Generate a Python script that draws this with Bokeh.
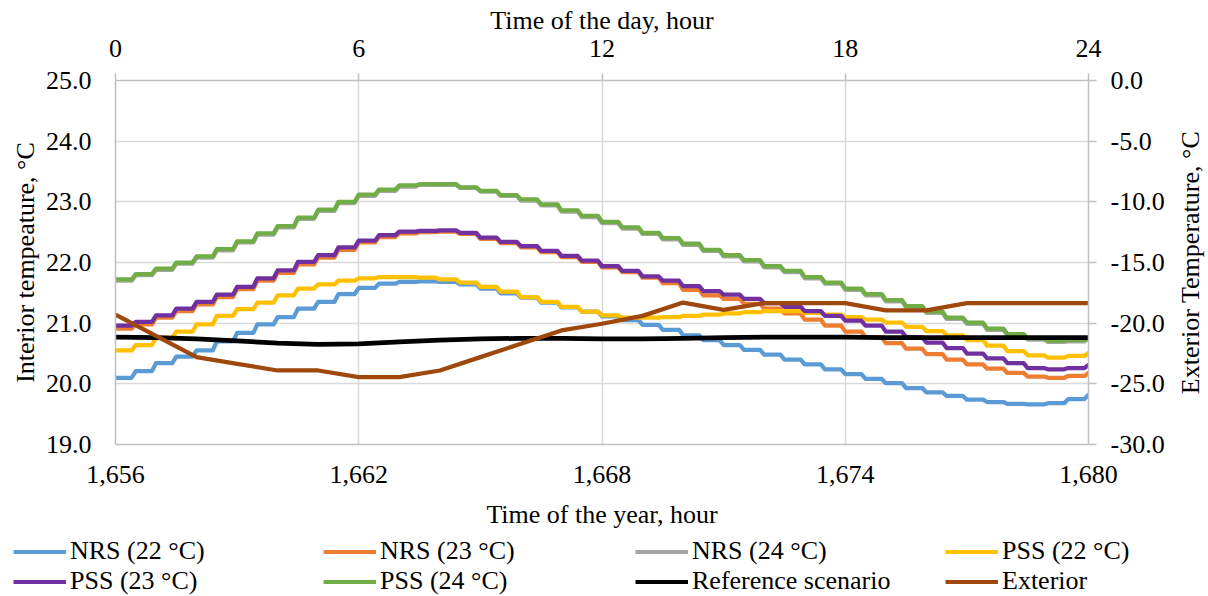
import math
from bokeh.plotting import figure
from bokeh.layouts import column, row
from bokeh.models import (Range1d, LinearAxis, FixedTicker, NumeralTickFormatter,
                          Legend, LegendItem, Grid, Label)
from bokeh.embed import file_html
from bokeh.resources import INLINE

FONT = "Liberation Serif"
FS = "26px"

# ---------------- data ----------------
start_hour = 1656
half_hours = [i * 0.5 for i in range(49)]   # time of the day, h (half-hour samples)
hours = list(range(25))                      # time of the day, h (hourly samples)

nrs_22 = [20.10, 20.21, 20.34, 20.45, 20.55, 20.70, 20.84, 20.98, 21.10, 21.24,
          21.35, 21.48, 21.58, 21.65, 21.68, 21.69, 21.68, 21.64, 21.57, 21.49,
          21.42, 21.34, 21.26, 21.19, 21.11, 21.05, 20.97, 20.89, 20.80, 20.72,
          20.64, 20.56, 20.48, 20.40, 20.32, 20.24, 20.16, 20.08, 20.01, 19.93,
          19.86, 19.80, 19.74, 19.70, 19.67, 19.66, 19.68, 19.75, 19.82]
nrs_23 = [20.91, 20.98, 21.09, 21.20, 21.31, 21.43, 21.56, 21.70, 21.83, 21.97,
          22.08, 22.21, 22.33, 22.42, 22.48, 22.50, 22.51, 22.47, 22.39, 22.32,
          22.25, 22.17, 22.09, 22.01, 21.92, 21.84, 21.75, 21.66, 21.55, 21.46,
          21.40, 21.32, 21.24, 21.16, 21.06, 20.96, 20.86, 20.77, 20.67, 20.58,
          20.49, 20.40, 20.32, 20.25, 20.18, 20.12, 20.10, 20.13, 20.18]
nrs_24 = [21.70, 21.79, 21.88, 21.98, 22.08, 22.20, 22.33, 22.46, 22.58, 22.72,
          22.85, 22.98, 23.10, 23.18, 23.25, 23.28, 23.28, 23.23, 23.17, 23.10,
          23.02, 22.94, 22.84, 22.75, 22.65, 22.56, 22.47, 22.38, 22.29, 22.19,
          22.10, 22.02, 21.92, 21.84, 21.74, 21.65, 21.55, 21.46, 21.36, 21.26,
          21.17, 21.07, 20.99, 20.89, 20.80, 20.73, 20.69, 20.70, 20.74]
pss_22 = [20.55, 20.64, 20.76, 20.86, 20.98, 21.12, 21.23, 21.34, 21.46, 21.57,
          21.64, 21.70, 21.74, 21.76, 21.76, 21.75, 21.72, 21.67, 21.60, 21.52,
          21.43, 21.35, 21.27, 21.19, 21.13, 21.09, 21.09, 21.10, 21.12, 21.14,
          21.16, 21.18, 21.20, 21.20, 21.17, 21.14, 21.10, 21.06, 21.01, 20.94,
          20.87, 20.80, 20.72, 20.63, 20.54, 20.47, 20.43, 20.46, 20.51]
pss_23 = [20.96, 21.02, 21.13, 21.24, 21.35, 21.47, 21.60, 21.74, 21.87, 22.01,
          22.12, 22.25, 22.36, 22.45, 22.51, 22.52, 22.53, 22.49, 22.41, 22.34,
          22.27, 22.19, 22.11, 22.03, 21.94, 21.86, 21.77, 21.70, 21.61, 21.53,
          21.47, 21.40, 21.33, 21.27, 21.20, 21.12, 21.04, 20.96, 20.86, 20.77,
          20.68, 20.59, 20.50, 20.42, 20.34, 20.26, 20.24, 20.26, 20.31]
pss_24 = [21.72, 21.81, 21.90, 22.00, 22.10, 22.22, 22.35, 22.48, 22.60, 22.74,
          22.87, 23.00, 23.12, 23.20, 23.27, 23.29, 23.29, 23.24, 23.18, 23.11,
          23.04, 22.96, 22.86, 22.77, 22.67, 22.58, 22.49, 22.40, 22.31, 22.21,
          22.12, 22.04, 21.94, 21.86, 21.76, 21.67, 21.57, 21.48, 21.38, 21.28,
          21.19, 21.09, 21.01, 20.91, 20.82, 20.75, 20.71, 20.72, 20.76]
reference = [20.77, 20.76, 20.74, 20.71, 20.67, 20.65, 20.66, 20.69, 20.72, 20.74,
             20.75, 20.75, 20.74, 20.74, 20.75, 20.76, 20.77, 20.77, 20.77, 20.76,
             20.76, 20.76, 20.76, 20.76, 20.76]
exterior = [-19.3, -21.05, -22.8, -23.35, -23.9, -23.9, -24.45, -24.45, -23.9, -22.8,
            -21.7, -20.6, -20.05, -19.4, -18.3, -18.9, -18.35, -18.35, -18.35, -18.95,
            -18.95, -18.35, -18.35, -18.35, -18.35]

series = [
    ("NRS (22 °C)", nrs_22, "#5B9BD5"),
    ("NRS (23 °C)", nrs_23, "#ED7D31"),
    ("NRS (24 °C)", nrs_24, "#A5A5A5"),
    ("PSS (22 °C)", pss_22, "#FFC000"),
    ("PSS (23 °C)", pss_23, "#7030A0"),
    ("PSS (24 °C)", pss_24, "#70AD47"),
]
REF_COLOR = "#000000"
EXT_COLOR = "#9E480E"
LW = 4.25


def stairs(vals):
    """Half-hourly simulation output drawn as plateau + short ramp."""
    xs, ys = [], []
    for i in range(len(vals) - 1):
        t0 = start_hour + half_hours[i]
        xs += [t0, t0 + 0.4]
        ys += [vals[i], vals[i]]
    xs.append(start_hour + half_hours[-1])
    ys.append(vals[-1])
    return xs, ys


def bare(fig):
    if "frame_align" in fig.properties():
        fig.frame_align = False
    for g in list(fig.grid):
        g.visible = False
    fig.outline_line_color = None


# ---------------- main figure ----------------
W = 1208
MAIN_H = 536
RIGHT_W = 38
p = figure(width=W - RIGHT_W, height=MAIN_H, output_backend="svg", toolbar_location=None,
           x_range=Range1d(1656, 1680), y_range=Range1d(19, 25),
           x_axis_location=None, y_axis_location=None,
           min_border_left=115, min_border_right=W - RIGHT_W - 1088,
           min_border_top=80, min_border_bottom=MAIN_H - 444)
bare(p)
p.extra_x_ranges = {"day": Range1d(0, 24)}
p.extra_y_ranges = {"ext": Range1d(-30, 0)}

AX = "#BFBFBF"


def style_axis(ax):
    ax.axis_line_color = AX
    ax.axis_line_width = 1.5
    ax.major_tick_line_color = AX
    ax.major_tick_line_width = 1.5
    ax.major_tick_in = 0
    ax.minor_tick_line_color = None
    ax.major_label_text_font = FONT
    ax.major_label_text_font_size = FS
    ax.major_label_text_color = "black"
    ax.axis_label_text_font = FONT
    ax.axis_label_text_font_size = FS
    ax.axis_label_text_font_style = "normal"
    ax.axis_label_text_color = "black"


xb = LinearAxis(ticker=FixedTicker(ticks=[1656, 1662, 1668, 1674, 1680]),
                formatter=NumeralTickFormatter(format="0,0"),
                axis_label="Time of the year, hour")
style_axis(xb)
xb.major_tick_out = 0
xb.major_label_standoff = 21
xb.axis_label_standoff = 14
p.add_layout(xb, "below")

xt = LinearAxis(x_range_name="day", ticker=FixedTicker(ticks=[0, 6, 12, 18, 24]),
                axis_label="Time of the day, hour")
style_axis(xt)
xt.major_tick_out = 7
xt.major_label_standoff = 17
xt.axis_label_standoff = 2
p.add_layout(xt, "above")

yl = LinearAxis(ticker=FixedTicker(ticks=[19, 20, 21, 22, 23, 24, 25]),
                formatter=NumeralTickFormatter(format="0.0"),
                axis_label="Interior tempeature, °C")
style_axis(yl)
yl.major_tick_out = 0
yl.major_label_standoff = 24
yl.axis_label_standoff = 3
p.add_layout(yl, "left")

yr = LinearAxis(y_range_name="ext", ticker=FixedTicker(ticks=[-30, -25, -20, -15, -10, -5, 0]),
                formatter=NumeralTickFormatter(format="0.0"))
style_axis(yr)
yr.major_tick_out = 8
yr.major_label_standoff = 14
p.add_layout(yr, "right")

GRID = "#D9D9D9"
p.add_layout(Grid(dimension=0, ticker=FixedTicker(ticks=[1662, 1668, 1674, 1680]),
                  grid_line_color=GRID, grid_line_width=1.5))
p.add_layout(Grid(dimension=1, ticker=FixedTicker(ticks=[20, 21, 22, 23, 24, 25]),
                  grid_line_color=GRID, grid_line_width=1.5))

for name, vals, color in series:
    xs, ys = stairs(vals)
    p.line(xs, ys, line_color=color, line_width=LW, line_join="round", line_cap="round")

p.line([start_hour + h for h in hours], reference, line_color=REF_COLOR,
       line_width=LW + 0.5, line_join="round")
p.line([start_hour + h for h in hours], exterior, y_range_name="ext",
       line_color=EXT_COLOR, line_width=LW, line_join="round")

# ---------------- right-axis title strip (reads bottom to top) ----------------
rt = figure(width=RIGHT_W, height=MAIN_H, output_backend="svg", toolbar_location=None,
            x_range=Range1d(0, 1), y_range=Range1d(0, 1),
            x_axis_location=None, y_axis_location=None, min_border=0)
bare(rt)
rt.add_layout(Label(x=20, y=MAIN_H - 262, x_units="screen", y_units="screen",
                    text="Exterior Temperature, °C", angle=math.pi / 2,
                    text_align="center", text_baseline="middle",
                    text_font=FONT, text_font_size=FS, text_color="black"))

# ---------------- legend strip ----------------
# Legend renderers carry the same series but lie outside the strip's ranges,
# so only the legend entries are visible.
LEG_H = 596 - MAIN_H
lg = figure(width=W, height=LEG_H, output_backend="svg", toolbar_location=None,
            x_range=Range1d(0, 1), y_range=Range1d(0, 1),
            x_axis_location=None, y_axis_location=None, min_border=0)
bare(lg)

legend_renderers = {}
for name, vals, color in series:
    xs, ys = stairs(vals)
    legend_renderers[name] = lg.line(xs, ys, line_color=color, line_width=4)
legend_renderers["Reference scenario"] = lg.line([start_hour + h for h in hours], reference,
                                                 line_color=REF_COLOR, line_width=4)
legend_renderers["Exterior"] = lg.line([start_hour + h for h in hours], exterior,
                                       line_color=EXT_COLOR, line_width=4)

columns = [(13, ["NRS (22 °C)", "PSS (23 °C)"]),
           (323, ["NRS (23 °C)", "PSS (24 °C)"]),
           (635, ["NRS (24 °C)", "Reference scenario"]),
           (945, ["PSS (22 °C)", "Exterior"])]
for vx, names in columns:
    leg = Legend(items=[LegendItem(label=n, renderers=[legend_renderers[n]]) for n in names],
                 location=(vx, 0), orientation="vertical", spacing=-6,
                 padding=0, margin=0, glyph_width=53, glyph_height=27,
                 label_height=27, label_standoff=4,
                 label_text_font=FONT, label_text_font_size=FS,
                 label_text_color="black",
                 border_line_alpha=0, background_fill_alpha=0)
    lg.add_layout(leg)

layout = column(row(p, rt, spacing=0), lg, spacing=0)
open("out.html", "w").write(file_html(layout, INLINE))
